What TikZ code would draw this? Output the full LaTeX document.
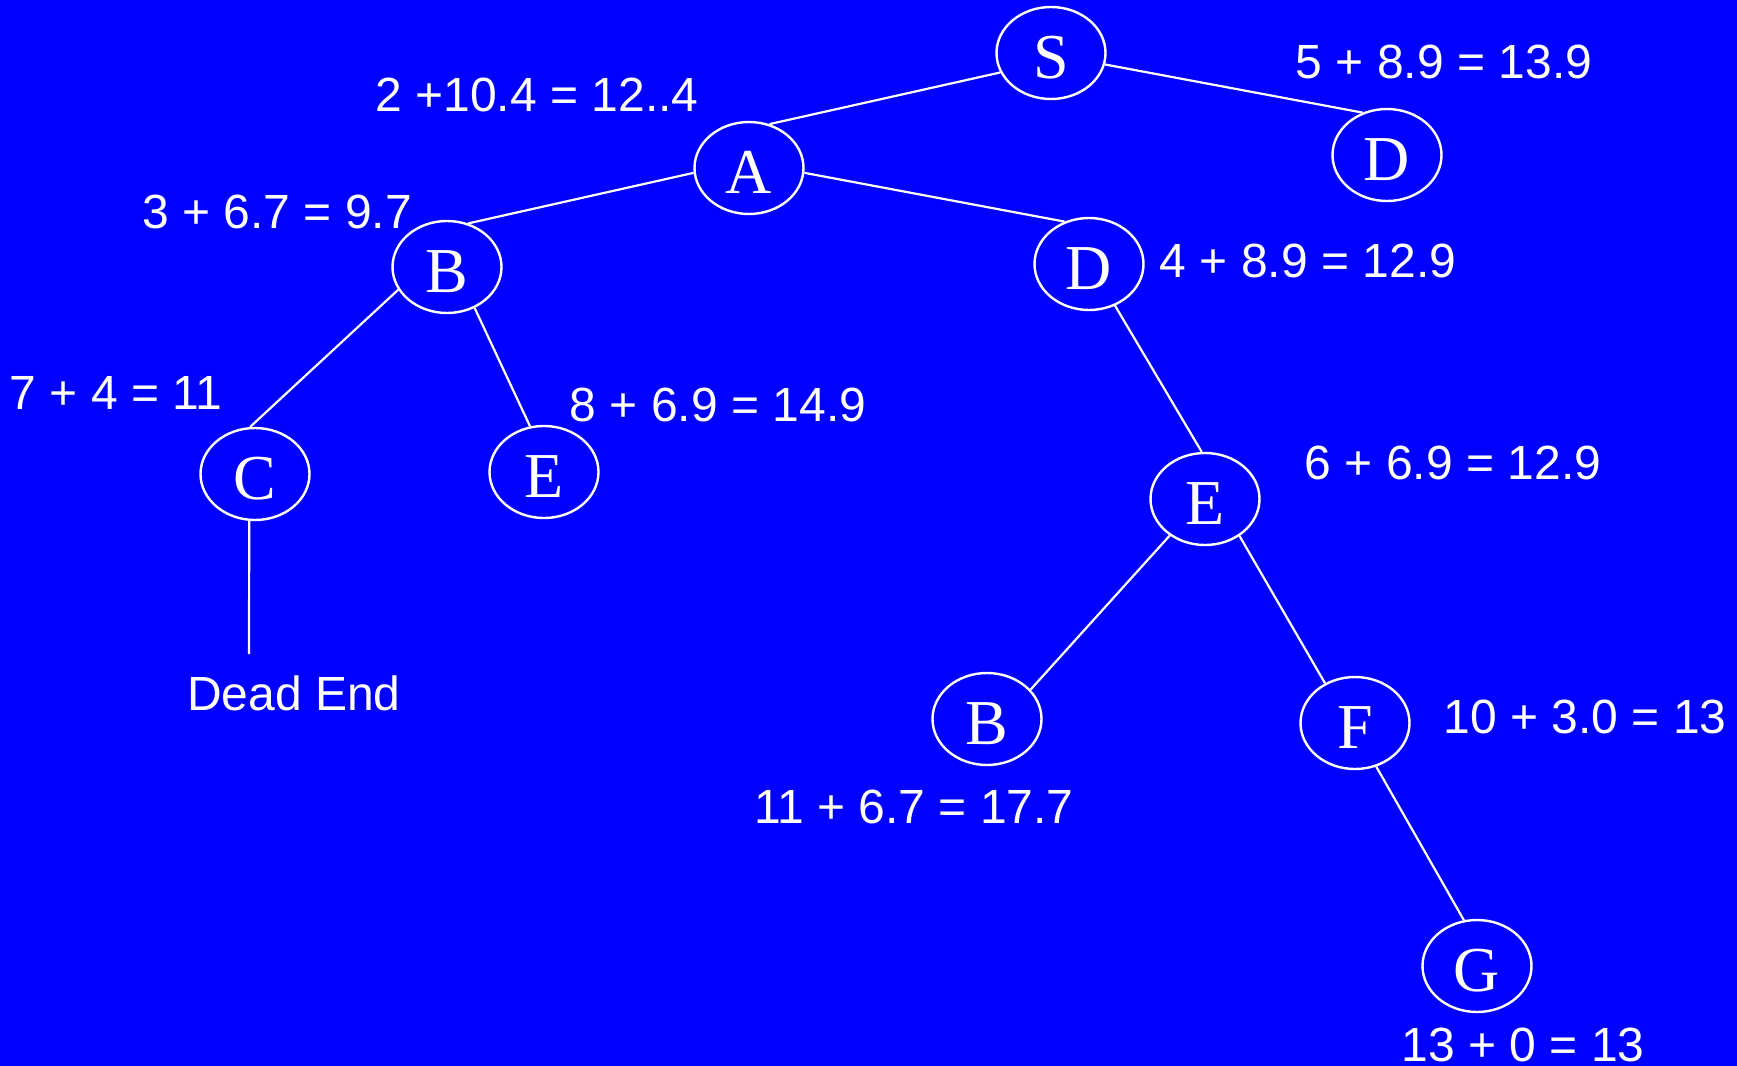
\documentclass[tikz,border=0pt]{standalone}
\usepackage{fontspec}
\setmainfont{Liberation Sans}
\newfontfamily\letterfont{Liberation Serif}
\usetikzlibrary{shapes.geometric}
\definecolor{slide}{RGB}{0,0,255}
\tikzset{
  state/.style={ellipse,draw=white,line width=1.2pt,inner sep=0pt,
    minimum width=54.5pt,minimum height=46pt,text=white,
    text height=25pt,text depth=0pt,
    font=\letterfont\fontsize{32}{36}\selectfont},
  cost/.style={text=white,inner sep=0pt,font=\fontsize{24}{28}\selectfont},
  link/.style={draw=white,line width=1.1pt},
}
\begin{document}
\begin{tikzpicture}[x=0.5pt,y=-0.5pt]
  \fill[slide] (0,0) rectangle (1737,1066);
  \useasboundingbox (0,0) rectangle (1737,1066);
  % search tree
  \foreach \n/\t/\x/\y in {S/S/1051/53, D1/D/1387/155, A/A/749/168,
      B1/B/447/267, D2/D/1089/264, C/C/255/474, E1/E/544/472,
      E2/E/1205/499, B2/B/987/719, F/F/1355/723, G/G/1477/966}
    \node[state] (\n) at (\x,\y) {\t};
  \foreach \a/\b in {S.201/A.65, S.348/D1.120, A.185/B1.64, A.355/D2.120,
      B1.205/C.96, B1.304/E1.107, D2.302/E2.94, E2.226/B2.34,
      E2.313/F.127, F.296/G.106}
    \draw[link] (\a) -- (\b);
  % costs g + h = f
  \foreach \t/\x/\y [count=\i] in {2 +10.4 = 12..4/537/95, 5 + 8.9 = 13.9/1444/62,
      3 + 6.7 = 9.7/277/212, 4 + 8.9 = 12.9/1308/261, 7 + 4 = 11/116/393,
      8 + 6.9 = 14.9/718/405, 6 + 6.9 = 12.9/1453/463, 10 + 3.0 = 13/1585/717,
      11 + 6.7 = 17.7/914/807, 13 + 0 = 13/1523/1045}
    \node[cost] (f\i) at (\x,\y) {\t};
  \node[cost] (dead) at (294,693) {Dead End};
  \coordinate (stub) at (249,654);
  \draw[link] (C.263) -- (stub);
\end{tikzpicture}
\end{document}
